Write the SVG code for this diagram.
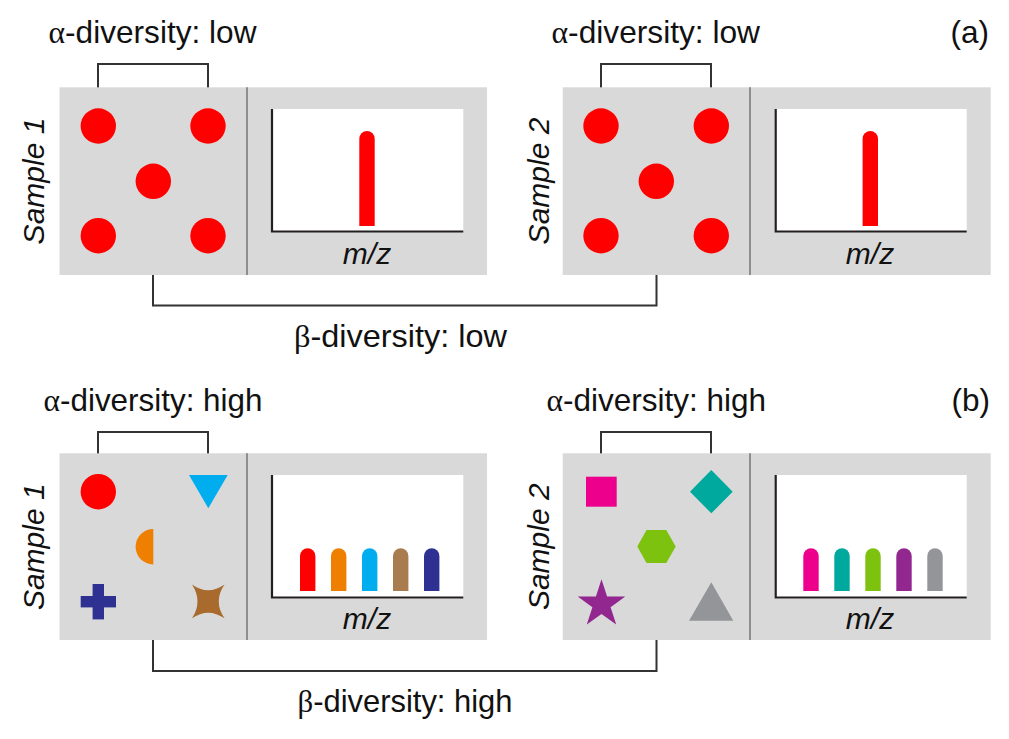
<svg xmlns="http://www.w3.org/2000/svg" width="1009" height="739" viewBox="0 0 1009 739">
<style>
text{font-family:"Liberation Sans",Arial,sans-serif;font-size:30px;fill:#111}
.lab{font-size:31.5px}
.gr{font-family:"Liberation Serif","Times New Roman",serif}
.it{font-style:italic}
.mid{text-anchor:middle}
.panel{fill:#D9D9D9}
.div{stroke:#8E8E8E;stroke-width:2;fill:none}
.chart{fill:#FFFFFF}
.axis{stroke:#231F20;stroke-width:2.2;fill:none}
.br{stroke:#333333;stroke-width:2;fill:none}
.red{fill:#FF0000}
</style>
<defs>
<path id="bar1" d="M-7.7,0 V-87.3 A7.7,7.7 0 0 1 7.7,-87.3 V0 Z"/>
<path id="barS" d="M-7.7,0 V-35 A7.7,7.7 0 0 1 7.7,-35 V0 Z"/>
</defs>

<g id="connectors">
<path class="br" d="M98,88 V64 H208 V88"/>
<path class="br" d="M601,88 V64 H711 V88"/>
<path class="br" d="M153,275 V305.5 H656.5 V275"/>
<path class="br" d="M98,454 V432 H208 V454"/>
<path class="br" d="M601,454 V432 H711 V454"/>
<path class="br" d="M153,640 V671 H656.5 V640"/>
</g>

<g id="labels">
<text class="lab" x="48.5" y="43" textLength="208" lengthAdjust="spacingAndGlyphs"><tspan class="gr">α</tspan>-diversity: low</text>
<text class="lab" x="551.5" y="43" textLength="208.5" lengthAdjust="spacingAndGlyphs"><tspan class="gr">α</tspan>-diversity: low</text>
<text class="lab" x="989" y="43" text-anchor="end">(a)</text>
<text class="lab" x="294" y="347" textLength="213" lengthAdjust="spacingAndGlyphs"><tspan class="gr">β</tspan>-diversity: low</text>
<text class="lab" x="43.5" y="411" textLength="219" lengthAdjust="spacingAndGlyphs"><tspan class="gr">α</tspan>-diversity: high</text>
<text class="lab" x="546.5" y="411" textLength="219.5" lengthAdjust="spacingAndGlyphs"><tspan class="gr">α</tspan>-diversity: high</text>
<text class="lab" x="990" y="411" text-anchor="end">(b)</text>
<text class="lab" x="297.5" y="711.5" textLength="215" lengthAdjust="spacingAndGlyphs"><tspan class="gr">β</tspan>-diversity: high</text>
</g>

<g id="a-sample1">
<rect class="panel" x="59.5" y="87.3" width="427.5" height="187.7"/>
<line class="div" x1="247" y1="87.3" x2="247" y2="275"/>
<text class="it mid" transform="translate(43.5,181) rotate(-90)">Sample 1</text>
<circle class="red" cx="98.3" cy="126" r="17.7"/>
<circle class="red" cx="208" cy="126" r="17.7"/>
<circle class="red" cx="153.3" cy="181.3" r="17.7"/>
<circle class="red" cx="98.3" cy="235.7" r="17.7"/>
<circle class="red" cx="208" cy="235.7" r="17.7"/>
<rect class="chart" x="271" y="109" width="192.3" height="122.7"/>
<path class="axis" d="M272,109 V231.5 H463.3"/>
<use href="#bar1" x="367" y="226" class="red"/>
<text class="it mid" x="367" y="263.5">m/z</text>
</g>

<g id="a-sample2">
<rect class="panel" x="562.7" y="87.3" width="428" height="187.7"/>
<line class="div" x1="750" y1="87.3" x2="750" y2="275"/>
<text class="it mid" transform="translate(548.5,181) rotate(-90)">Sample 2</text>
<circle class="red" cx="601" cy="126" r="17.7"/>
<circle class="red" cx="711.3" cy="126" r="17.7"/>
<circle class="red" cx="656.3" cy="181.3" r="17.7"/>
<circle class="red" cx="601" cy="235.7" r="17.7"/>
<circle class="red" cx="711.3" cy="235.7" r="17.7"/>
<rect class="chart" x="774.7" y="109" width="192" height="122.7"/>
<path class="axis" d="M775.7,109 V231.5 H966.7"/>
<use href="#bar1" x="870.3" y="226" class="red"/>
<text class="it mid" x="870" y="263.5">m/z</text>
</g>

<g id="b-sample1">
<rect class="panel" x="59.5" y="453.3" width="427.5" height="186.7"/>
<line class="div" x1="247" y1="453.3" x2="247" y2="640"/>
<text class="it mid" transform="translate(43.5,546.7) rotate(-90)">Sample 1</text>
<circle class="red" cx="98.3" cy="491.7" r="17.7"/>
<path fill="#00AEEF" d="M189,475 H227.7 L208.3,508.3 Z"/>
<path fill="#EF7F00" d="M153.3,529 A17.7,17.7 0 0 0 153.3,564.4 Z"/>
<g fill="#2E3192">
<rect x="92.6" y="584" width="11.4" height="35.4"/>
<rect x="80.7" y="596" width="35.3" height="11.4"/>
</g>
<path fill="#A86B2D" d="M192,584.5 Q208,596 224.5,584.5 Q213,601.5 224.5,618.3 Q208,607 192,618.3 Q203,601.5 192,584.5 Z"/>
<rect class="chart" x="271" y="475" width="192.3" height="123.3"/>
<path class="axis" d="M272,475 V597.5 H463.3"/>
<use href="#barS" x="307.7" y="591" fill="#FF0000"/>
<use href="#barS" x="338.7" y="591" fill="#EF7F00"/>
<use href="#barS" x="369.7" y="591" fill="#00AEEF"/>
<use href="#barS" x="400.7" y="591" fill="#A97C50"/>
<use href="#barS" x="431.7" y="591" fill="#2E3192"/>
<text class="it mid" x="367" y="629">m/z</text>
</g>

<g id="b-sample2">
<rect class="panel" x="562.7" y="453.3" width="428" height="186.7"/>
<line class="div" x1="750" y1="453.3" x2="750" y2="640"/>
<text class="it mid" transform="translate(548.5,546.7) rotate(-90)">Sample 2</text>
<rect fill="#EC008C" x="586" y="476.7" width="30.7" height="30"/>
<path fill="#00A99D" d="M711.3,470 L732.7,491.7 L711.3,513.3 L690,491.7 Z"/>
<path fill="#7DC20F" d="M646.5,530 H666.3 L675.7,546.5 L666.3,563 H646.5 L637.3,546.5 Z"/>
<path fill="#92278F" d="M601.5,579.3 L607.1,596.6 L625.3,596.6 L610.6,607.3 L616.2,624.5 L601.5,613.9 L586.8,624.5 L592.4,607.3 L577.7,596.6 L595.9,596.6 Z"/>
<path fill="#939598" d="M711.3,582.3 L733.3,620.7 L689,620.7 Z"/>
<rect class="chart" x="774.7" y="475" width="192" height="123.3"/>
<path class="axis" d="M775.7,475 V597.5 H966.7"/>
<use href="#barS" x="811" y="591" fill="#EC008C"/>
<use href="#barS" x="842" y="591" fill="#00A99D"/>
<use href="#barS" x="873" y="591" fill="#7DC20F"/>
<use href="#barS" x="904" y="591" fill="#92278F"/>
<use href="#barS" x="935" y="591" fill="#939598"/>
<text class="it mid" x="870" y="629">m/z</text>
</g>
</svg>
